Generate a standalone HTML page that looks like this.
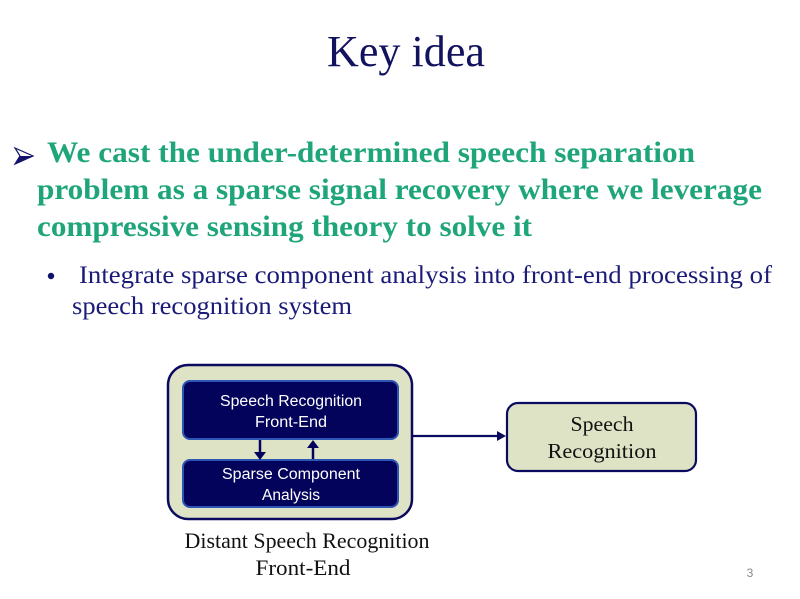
<!DOCTYPE html>
<html><head><meta charset="utf-8"><style>
html,body{margin:0;padding:0;background:#fff;}
svg{display:block;}
</style></head><body>
<svg width="800" height="599" viewBox="0 0 800 599" xmlns="http://www.w3.org/2000/svg">
<rect x="0" y="0" width="800" height="599" fill="#fff"/>
<!-- Title -->
<text x="406" y="66" text-anchor="middle" font-family="Liberation Serif, serif" font-size="44" fill="#12125e" textLength="158" lengthAdjust="spacingAndGlyphs">Key idea</text>

<!-- Arrow bullet -->
<polygon points="15,148 33,156 15,164 20,156" fill="#fff" stroke="#12126a" stroke-width="1.2"/>
<polygon points="15,164 33,156 20,156" fill="#12126a"/>

<!-- Green bold text -->
<g font-family="Liberation Serif, serif" font-weight="bold" font-size="30" fill="#1ea57a">
<text x="47" y="162" textLength="648" lengthAdjust="spacingAndGlyphs">We cast the under-determined speech separation</text>
<text x="37" y="199" textLength="725" lengthAdjust="spacingAndGlyphs">problem as a sparse signal recovery where we leverage</text>
<text x="37" y="236" textLength="495" lengthAdjust="spacingAndGlyphs">compressive sensing theory to solve it</text>
</g>

<!-- Sub bullet -->
<circle cx="51" cy="276" r="3.2" fill="#12126a"/>
<g font-family="Liberation Serif, serif" font-size="25" fill="#1a1a78">
<text x="79" y="283" textLength="693" lengthAdjust="spacingAndGlyphs">Integrate sparse component analysis into front-end processing of</text>
<text x="72" y="314" textLength="280" lengthAdjust="spacingAndGlyphs">speech recognition system</text>
</g>

<!-- Outer box -->
<rect x="168" y="365" width="244" height="154" rx="20" ry="20" fill="#dfe3c5" stroke="#0a0a5e" stroke-width="2.5"/>
<!-- Inner boxes -->
<rect x="183" y="381" width="215" height="58" rx="7" ry="7" fill="#03035c" stroke="#2c55b4" stroke-width="2"/>
<rect x="183" y="460" width="215" height="47" rx="7" ry="7" fill="#03035c" stroke="#2c55b4" stroke-width="2"/>
<g font-family="Liberation Sans, sans-serif" font-size="15.5" fill="#ffffff" text-anchor="middle">
<text x="291" y="406" textLength="142" lengthAdjust="spacingAndGlyphs">Speech Recognition</text>
<text x="291" y="427" textLength="72" lengthAdjust="spacingAndGlyphs">Front-End</text>
<text x="291" y="479" textLength="138" lengthAdjust="spacingAndGlyphs">Sparse Component</text>
<text x="291" y="500" textLength="58" lengthAdjust="spacingAndGlyphs">Analysis</text>
</g>
<!-- internal arrows -->
<line x1="260" y1="440" x2="260" y2="454" stroke="#03035c" stroke-width="2.5"/>
<polygon points="254,452 266,452 260,460" fill="#03035c"/>
<line x1="313" y1="459" x2="313" y2="446" stroke="#03035c" stroke-width="2.5"/>
<polygon points="307,448 319,448 313,440" fill="#03035c"/>

<!-- main arrow -->
<line x1="412" y1="436" x2="500" y2="436" stroke="#0a0a5e" stroke-width="2.2"/>
<polygon points="497,431 506,436 497,441" fill="#0a0a5e"/>

<!-- Speech recognition box -->
<rect x="507" y="403" width="189" height="68" rx="11" ry="11" fill="#dfe3c5" stroke="#0a0a5e" stroke-width="2.2"/>
<g font-family="Liberation Serif, serif" font-size="21" fill="#111" text-anchor="middle">
<text x="602" y="431" textLength="63" lengthAdjust="spacingAndGlyphs">Speech</text>
<text x="602" y="458" textLength="109" lengthAdjust="spacingAndGlyphs">Recognition</text>
</g>

<!-- caption -->
<g font-family="Liberation Serif, serif" font-size="22" fill="#111" text-anchor="middle">
<text x="307" y="548" textLength="245" lengthAdjust="spacingAndGlyphs">Distant Speech Recognition</text>
<text x="303" y="575" textLength="95" lengthAdjust="spacingAndGlyphs">Front-End</text>
</g>

<!-- page number -->
<text x="750" y="577" text-anchor="middle" font-family="Liberation Sans, sans-serif" font-size="12" fill="#888">3</text>
</svg>
</body></html>
